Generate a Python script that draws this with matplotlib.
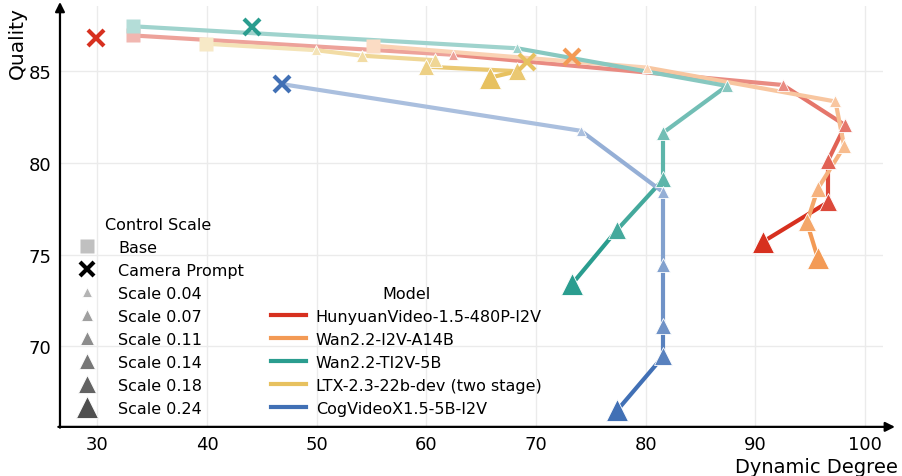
import matplotlib

matplotlib.use("Agg")
import matplotlib.pyplot as plt
import numpy as np
from matplotlib.colors import to_rgb
from matplotlib.lines import Line2D

# ---- data -----------------------------------------------------------------
models = [
    "HunyuanVideo-1.5-480P-I2V",
    "Wan2.2-I2V-A14B",
    "Wan2.2-TI2V-5B",
    "LTX-2.3-22b-dev (two stage)",
    "CogVideoX1.5-5B-I2V",
]
model_colors = ["#d7301f", "#f39a55", "#2a9d8f", "#e7c15f", "#4170b5"]

scales = ["0.04", "0.07", "0.11", "0.14", "0.18", "0.24"]

# base (no control) point; None = not shown
base_x = [33.3, 55.1, 33.3, 39.9, None]
base_y = [86.95, 86.4, 87.45, 86.5, None]

# camera-prompt point
cam_x = [29.9, 73.3, 44.1, 69.2, 46.8]
cam_y = [86.8, 85.8, 87.4, 85.5, 84.3]

# control-scale points, one list per model (scale 0.04 ... 0.24)
dyn = [
    [62.4, 92.5, 98.2, 96.6, 96.6, 90.7],
    [80.1, 97.3, 98.1, 95.7, 94.7, 95.7],
    [68.3, 87.4, 81.6, 81.6, 77.4, 73.3],
    [49.9, 54.1, 60.8, 60.0, 68.3, 65.8],
    [74.1, 81.6, 81.6, 81.6, 81.6, 77.4],
]
qual = [
    [85.9, 84.25, 82.05, 80.1, 77.85, 75.7],
    [85.2, 83.35, 80.9, 78.6, 76.75, 74.8],
    [86.25, 84.2, 81.65, 79.1, 76.35, 73.4],
    [86.15, 85.85, 85.6, 85.25, 85.0, 84.65],
    [81.75, 78.4, 74.45, 71.1, 69.45, 66.5],
]

# ---- style -----------------------------------------------------------------
BASE_T = 0.35
SCALE_T = [0.45, 0.56, 0.66, 0.76, 0.88, 1.0]
SCALE_MS = [7, 8.5, 10, 11.8, 13.6, 15.5]
LEGEND_GRAYS = ["#b4b4b4", "#a0a0a0", "#8c8c8c", "#777777", "#636363", "#4f4f4f"]


def tint(color, t):
    c = np.array(to_rgb(color))
    return tuple(1 - t + c * t)


plt.rcParams["font.family"] = "DejaVu Sans"
fig = plt.figure(figsize=(9.02, 4.77), dpi=100)
ax = fig.add_axes([0.0665, 0.103, 0.912, 0.882])

for i, col in enumerate(model_colors):
    if base_x[i] is not None:
        px, py, pt = [base_x[i]], [base_y[i]], [BASE_T]
    else:
        px, py, pt = [cam_x[i]], [cam_y[i]], [BASE_T]
    px += dyn[i]
    py += qual[i]
    pt += SCALE_T

    for k in range(len(px) - 1):
        ax.plot(px[k:k + 2], py[k:k + 2], color=tint(col, pt[k + 1]),
                lw=3, solid_capstyle="round", zorder=2)

    if base_x[i] is not None:
        ax.plot(base_x[i], base_y[i], "s", ms=10, color=tint(col, BASE_T),
                mec="none", zorder=3)
    for k in range(len(scales)):
        ax.plot(dyn[i][k], qual[i][k], "^", ms=SCALE_MS[k],
                color=tint(col, SCALE_T[k]), mec="white", mew=0.6, zorder=4)
    ax.plot(cam_x[i], cam_y[i], "x", ms=11, mew=3, color=col, zorder=5)

ax.set_xlim(26.6, 101.6)
ax.set_ylim(65.6, 88.55)
ax.set_xticks(range(30, 101, 10))
ax.set_yticks([70, 75, 80, 85])
ax.tick_params(length=0, labelsize=13, pad=6)
ax.grid(True, color="#ebebeb", lw=1)
ax.set_axisbelow(True)
for s in ax.spines.values():
    s.set_visible(False)

ax.annotate("", xy=(1.015, 0), xytext=(-0.002, 0), xycoords="axes fraction",
            arrowprops=dict(arrowstyle="-|>", color="black", lw=1.6,
                            mutation_scale=14, shrinkA=0, shrinkB=0))
ax.annotate("", xy=(0, 1.01), xytext=(0, -0.002), xycoords="axes fraction",
            arrowprops=dict(arrowstyle="-|>", color="black", lw=1.6,
                            mutation_scale=14, shrinkA=0, shrinkB=0))

ax.set_xlabel("Dynamic Degree", fontsize=14, loc="right", labelpad=3)
ax.xaxis.label.set_x(1.018)
ax.set_ylabel("Quality", fontsize=14.5, loc="top", labelpad=1)

# ---- legends -------------------------------------------------------------
scale_handles = [
    Line2D([], [], ls="none", marker="s", ms=10, color="#c0c0c0", mec="none"),
    Line2D([], [], ls="none", marker="x", ms=10, mew=3, color="black"),
]
for k in range(len(scales)):
    scale_handles.append(Line2D([], [], ls="none", marker="^", ms=SCALE_MS[k],
                                color=LEGEND_GRAYS[k], mec="white", mew=0.6))
scale_labels = ["Base", "Camera Prompt"] + [f"Scale {s}" for s in scales]
leg1 = ax.legend(scale_handles, scale_labels, title="Control Scale",
                 loc="lower left", bbox_to_anchor=(0.0, 0.0), frameon=False,
                 fontsize=11.5, title_fontsize=11.5, labelspacing=0.5,
                 handletextpad=0.95, borderaxespad=0.3)
ax.add_artist(leg1)

model_handles = [Line2D([], [], color=c, lw=3) for c in model_colors]
ax.legend(model_handles, models, title="Model", loc="lower left",
          bbox_to_anchor=(0.243, 0.0), frameon=False, fontsize=11.5,
          title_fontsize=11.5, labelspacing=0.5, handlelength=2.2,
          handletextpad=0.6, borderaxespad=0.3)

fig.savefig("out.png", dpi=100)
